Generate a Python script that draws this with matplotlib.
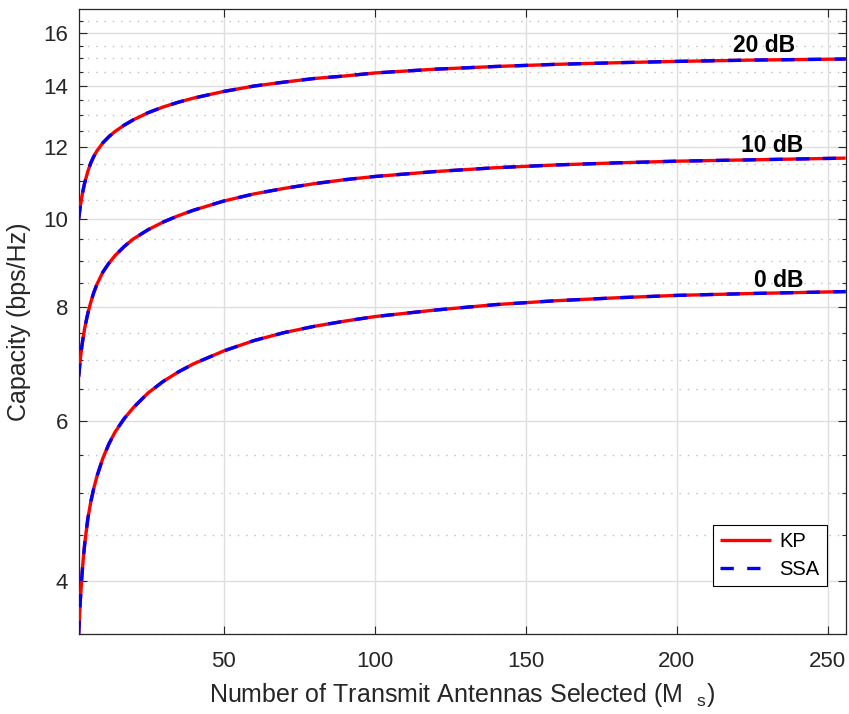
import numpy as np
import matplotlib
matplotlib.use("Agg")
import matplotlib.pyplot as plt
from matplotlib.ticker import FixedLocator, FixedFormatter, NullFormatter

plt.rcParams['font.family'] = ['Liberation Sans', 'DejaVu Sans']

# number of selected transmit antennas
ms = [2, 2.5, 3, 3.5, 4, 5, 6, 7, 8, 10, 12, 14, 17, 20, 25, 30, 35, 40, 50,
      60, 70, 80, 90, 100, 120, 140, 160, 180, 200, 225, 256]

# capacity (bps/Hz) per SNR, KP and SSA give the same curves
cap_0db = [3.50, 3.79, 4.03, 4.23, 4.40, 4.68, 4.89, 5.06, 5.21, 5.46, 5.66,
           5.83, 6.03, 6.20, 6.44, 6.63, 6.79, 6.93, 7.16, 7.35, 7.50, 7.62,
           7.72, 7.81, 7.94, 8.05, 8.13, 8.19, 8.24, 8.28, 8.32]
cap_10db = [6.71, 6.99, 7.23, 7.42, 7.59, 7.87, 8.10, 8.30, 8.47, 8.74, 8.94,
            9.11, 9.32, 9.50, 9.73, 9.92, 10.08, 10.22, 10.46, 10.65, 10.80,
            10.93, 11.04, 11.13, 11.27, 11.38, 11.46, 11.52, 11.57, 11.61,
            11.66]
cap_20db = [10.00, 10.31, 10.56, 10.77, 10.96, 11.27, 11.52, 11.71, 11.87,
            12.12, 12.31, 12.47, 12.67, 12.84, 13.08, 13.27, 13.43, 13.57,
            13.80, 13.99, 14.13, 14.26, 14.35, 14.46, 14.60, 14.70, 14.78,
            14.84, 14.89, 14.94, 14.98]

snr_labels = ["0 dB", "10 dB", "20 dB"]
label_pos = [(233.8, 8.55), (231.6, 12.04), (229.1, 15.52)]

yticks = [4, 6, 8, 10, 12, 14, 16]
yminor = [3.5, 4.5, 5, 5.5, 6.5, 7, 7.5, 8.5, 9, 9.5, 10.5, 11, 11.5,
          12.5, 13, 13.5, 14.5, 15, 15.5, 16.5]
xticks = [50, 100, 150, 200, 250]

fig = plt.figure(figsize=(8.49, 7.14), dpi=100)
ax = fig.add_axes([0.0927, 0.112, 0.9034, 0.8754])

dark = '#262626'
lw = 2.4
for i, cap in enumerate([cap_0db, cap_10db, cap_20db]):
    ax.plot(ms, cap, color='red', lw=lw, solid_capstyle='butt',
            label='KP' if i == 0 else None, zorder=3)
    ax.plot(ms, cap, color='blue', lw=lw, linestyle=(0, (4.0, 4.0)),
            dash_capstyle='butt', label='SSA' if i == 0 else None, zorder=4)

for txt, (tx, ty) in zip(snr_labels, label_pos):
    ax.text(tx, ty, txt, ha='center', va='center', fontsize=16.5,
            fontweight='bold', color='black', zorder=5)

ax.set_yscale('log')
ax.set_xlim(2, 256)
ax.set_ylim(3.5, 17)

ax.yaxis.set_major_locator(FixedLocator(yticks))
ax.yaxis.set_major_formatter(FixedFormatter([str(t) for t in yticks]))
ax.yaxis.set_minor_locator(FixedLocator(yminor))
ax.yaxis.set_minor_formatter(NullFormatter())
ax.set_xticks(xticks)

ax.set_axisbelow(True)
ax.grid(True, which='major', color='#dedede', lw=1.0, linestyle='-')
ax.grid(True, which='minor', axis='y', color='#bdbdbd', lw=1.0,
        linestyle=(0, (1, 5)))

ax.tick_params(which='both', direction='in', top=True, right=True,
               colors=dark, labelsize=16, width=0.8)
ax.tick_params(which='major', length=6)
ax.tick_params(which='minor', length=3)
ax.tick_params(axis='y', pad=7.5)
ax.tick_params(axis='x', pad=12)
for s in ax.spines.values():
    s.set_color(dark)
    s.set_linewidth(0.9)

ax.set_xlabel(r"Number of Transmit Antennas Selected (M  $_\mathregular{s}$)",
              fontsize=18, color=dark, labelpad=7)
ax.set_ylabel("Capacity (bps/Hz)", fontsize=18, color=dark, labelpad=9)

leg = ax.legend(loc='lower right', bbox_to_anchor=(0.9737, 0.1797),
                bbox_transform=fig.transFigure, borderaxespad=0,
                fontsize=14.5, fancybox=False, framealpha=1,
                edgecolor='black', handlelength=2.55, handletextpad=0.4,
                labelspacing=0.45, borderpad=0.35)
leg.get_frame().set_linewidth(0.8)

fig.savefig("out.png", dpi=100)
